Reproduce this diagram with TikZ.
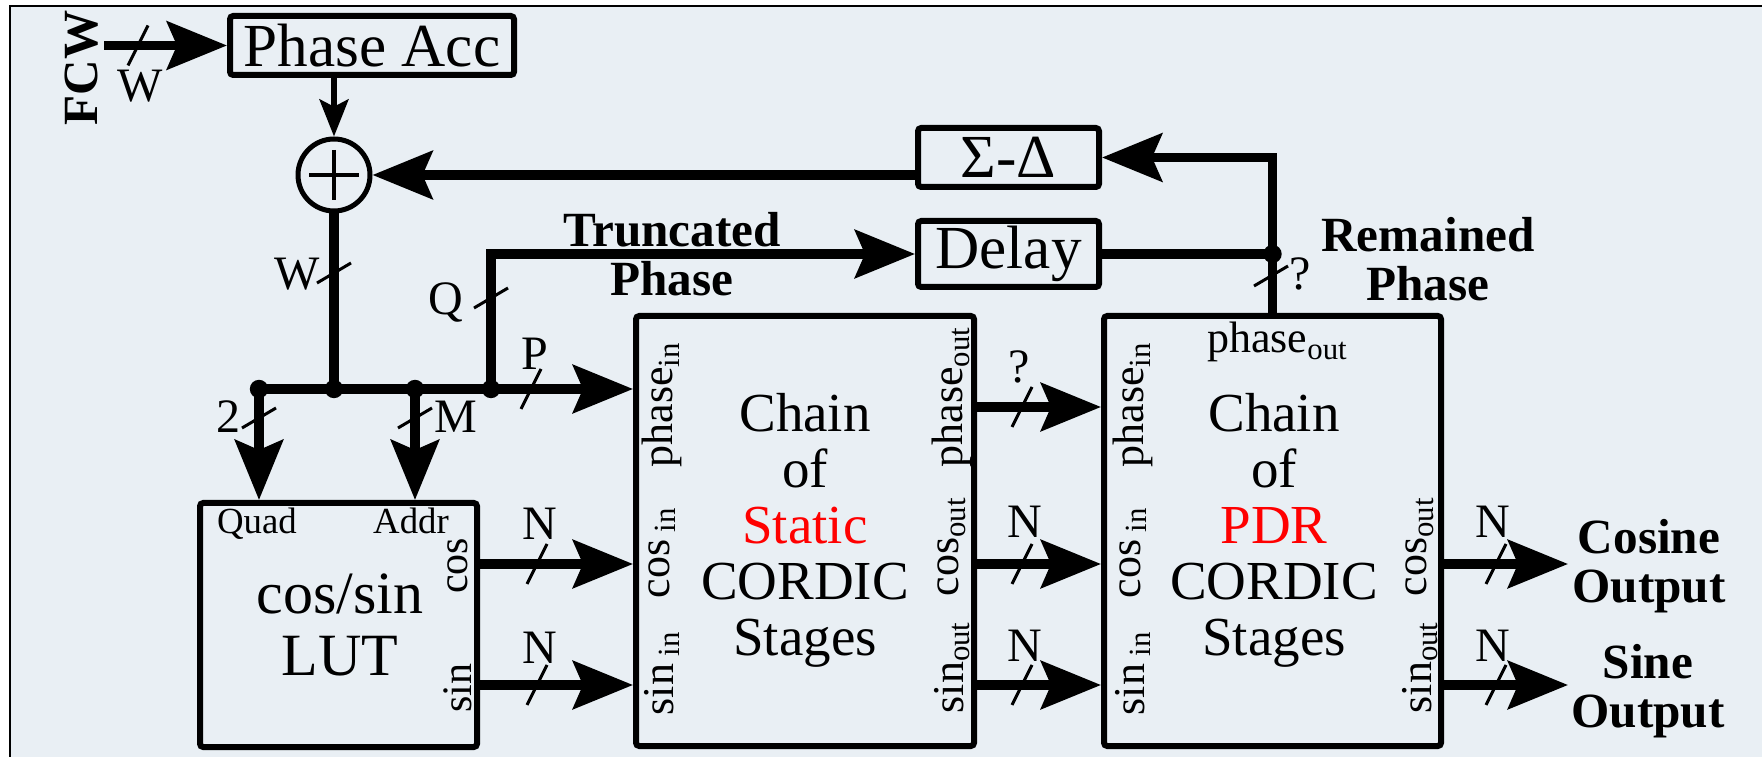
\documentclass[tikz,border=0pt]{standalone}
\usepackage{fontspec}
\setmainfont{Liberation Serif}
\usetikzlibrary{arrows.meta,calc}

\definecolor{panel}{RGB}{233,239,244}
\definecolor{hot}{RGB}{255,0,0}

\newcommand\fbig{\fontsize{13.75}{14}\selectfont}
\newcommand\fhuge{\fontsize{15.3}{15.5}\selectfont}
\newcommand\fport{\fontsize{11}{13}\selectfont}
\newcommand\fbit{\fontsize{12}{14}\selectfont}
\newcommand\fbold{\bfseries\fontsize{12.3}{12.3}\selectfont}
\newcommand\fsmall{\fontsize{9.2}{11}\selectfont}
% bus-width tick marks on horizontal and vertical wires
\newcommand\tickh[1]{\draw[tick] (#1) ++(-10,20) -- ++(20,-40);}
\newcommand\tickv[1]{\draw[tick] (#1) ++(-17,10) -- ++(34,-20);}

\begin{document}
\begin{tikzpicture}[x=0.25pt,y=-0.25pt,
  wire/.style={line width=2.3pt},
  arr/.style={wire,-{Stealth[length=15pt,width=12pt,inset=2.5pt]}},
  sarr/.style={line width=1.5pt,-{Stealth[length=9.25pt,width=7.2pt,inset=1.8pt]}},
  tick/.style={line width=0.75pt},
  blk/.style={draw,line width=1.5pt,rounded corners=0.8pt,inner sep=0pt},
  lab/.style={font=\fbit,inner sep=0pt,anchor=base},
  port/.style={font=\fport,inner sep=0pt,rotate=90,anchor=west},
  dot/.style={radius=2.3pt},
  every node/.style={inner sep=0pt}]
\useasboundingbox (0,0) rectangle (1762,757);
\clip (0,0) rectangle (1762,757);

% panel
\fill[panel] (10,6) rectangle (1780,780);
\draw[line width=0.6pt] (10,780) -- (10,6) -- (1780,6);

% blocks
\node[blk,minimum width=71pt,minimum height=14.75pt,font=\fhuge] (acc) at (372,45.5) {Phase Acc};
\node[draw,circle,line width=1.25pt,minimum size=18pt] (add) at (334,175) {};
\draw[line width=1.1pt] (add.center) ++(-25,0) -- ++(50,0);
\draw[line width=1.1pt] (add.center) ++(0,-25) -- ++(0,50);
\node[blk,minimum width=45.25pt,minimum height=14.75pt,font=\fhuge] (sd) at (1008.5,157.5) {Σ-Δ};
\node[blk,minimum width=45.25pt,minimum height=16.5pt,font=\fhuge] (dly) at (1008.5,254) {Delay};
\node[blk,minimum width=69.25pt,minimum height=61pt] (lut) at (338.5,625) {};
\node[blk,minimum width=84.5pt,minimum height=107.5pt] (st) at (805,531) {};
\node[blk,minimum width=84.25pt,minimum height=107.5pt] (pdr) at (1272.5,531) {};

% block texts
\node[font=\fontsize{15}{15.5}\selectfont,align=center] at (340,625) {cos/sin\\LUT};
\node[font=\fbig,align=center] at (805,530) {Chain\\of\\\textcolor{hot}{Static}\\CORDIC\\Stages};
\node[font=\fbig,align=center] at (1274,530) {Chain\\of\\\textcolor{hot}{PDR}\\CORDIC\\Stages};

% LUT ports
\node[font=\fsmall,anchor=base] at (257,533) {Quad};
\node[font=\fsmall,anchor=base] at (411,533) {Addr};
\node[font=\fontsize{10.5}{12}\selectfont,rotate=90] at (458,566) {cos};
\node[font=\fontsize{10.5}{12}\selectfont,rotate=90] at (458,688) {sin};

% static chain ports
\node[port] at (662,468) {phase\textsubscript{in}};
\node[port] at (662,599) {cos\,\textsubscript{in}};
\node[port] at (662,716) {sin\,\textsubscript{in}};
\node[port] at (952,468) {phase\textsubscript{out}};
\node[port] at (952,597) {cos\textsubscript{out}};
\node[port] at (952,714) {sin\textsubscript{out}};

% PDR chain ports
\node[port] at (1133,468) {phase\textsubscript{in}};
\node[port] at (1133,599) {cos\,\textsubscript{in}};
\node[port] at (1133,716) {sin\,\textsubscript{in}};
\node[font=\fport,anchor=base] at (1278,353) {phase\textsubscript{out}};
\node[port] at (1420,597) {cos\textsubscript{out}};
\node[port] at (1420,714) {sin\textsubscript{out}};

% signal levels
\coordinate (ycos) at (0,564);
\coordinate (ysin) at (0,685);
\coordinate (yph) at (0,407);
\coordinate (fcwin) at (104,45.5);
\coordinate (b1) at (259,389);
\coordinate (b2) at (334,389);
\coordinate (b3) at (415,389);
\coordinate (b4) at (491,389);
\coordinate (jr) at (pdr.north |- dly.east);
\coordinate (oc) at (1568,564);
\coordinate (os) at (1568,685);

% input side
\node[font=\fbold,rotate=90] (fcw) at (82,68) {FCW};
\draw[arr] (fcwin) -- (acc.west);
\draw[sarr] (acc.south -| add) -- (add);

% feedback through the noise shaper
\draw[arr] (pdr.north) |- (sd.east);
\draw[arr] (sd.west |- add) -- (add);
\draw[wire] (dly.east) -- (jr);
\fill (jr) circle[dot];

% phase bus
\draw[wire] (add) -- (b2);
\draw[arr] (b1) -- (b1 -| st.west);
\draw[arr] (b1) -- (b1 |- lut.north);
\draw[arr] (b3) -- (b3 |- lut.north);
\draw[arr] (b4) |- (dly.west);
\foreach \p in {b1,b2,b3,b4} \fill (\p) circle[dot];

% data paths
\draw[arr] (lut.east |- ycos) -- (st.west |- ycos);
\draw[arr] (lut.east |- ysin) -- (st.west |- ysin);
\draw[arr] (st.east |- yph) -- (pdr.west |- yph);
\draw[arr] (st.east |- ycos) -- (pdr.west |- ycos);
\draw[arr] (st.east |- ysin) -- (pdr.west |- ysin);
\draw[arr] (pdr.east |- oc) -- (oc);
\draw[arr] (pdr.east |- os) -- (os);

% bus widths
\tickh{138,45.5}  \node[lab] at (140,102) {W};
\tickv{334,273}   \node[lab] at (297,290) {W};
\tickv{491,298}   \node[lab] at (446,315) {Q};
\tickh{531,389}   \node[lab] at (535,370) {P};
\tickv{259,418}   \node[lab] at (228,433) {2};
\tickv{415,418}   \node[lab] at (456,433) {M};
\tickh{537,564}   \node[lab] at (540,540) {N};
\tickh{537,685}   \node[lab] at (540,663) {N};
\tickh{1022,407}  \node[lab] at (1019,383) {?};
\tickh{1022,564}  \node[lab] at (1025,538) {N};
\tickh{1022,685}  \node[lab] at (1025,661) {N};
\tickh{1496,564}  \node[lab] at (1493,538) {N};
\tickh{1496,685}  \node[lab] at (1493,661) {N};
\tickv{1271,276}  \node[lab] at (1300,290) {?};

% signal names
\node[font=\fbold,align=center] at (672,254) {Truncated\\Phase};
\node[font=\fbold,align=center] at (1428,259) {Remained\\Phase};
\node[font=\fbold,align=center] at (1649,566) {Cosine\\Output};
\node[font=\fbold,align=center] at (1648,691) {Sine\\Output};
\end{tikzpicture}
\end{document}
